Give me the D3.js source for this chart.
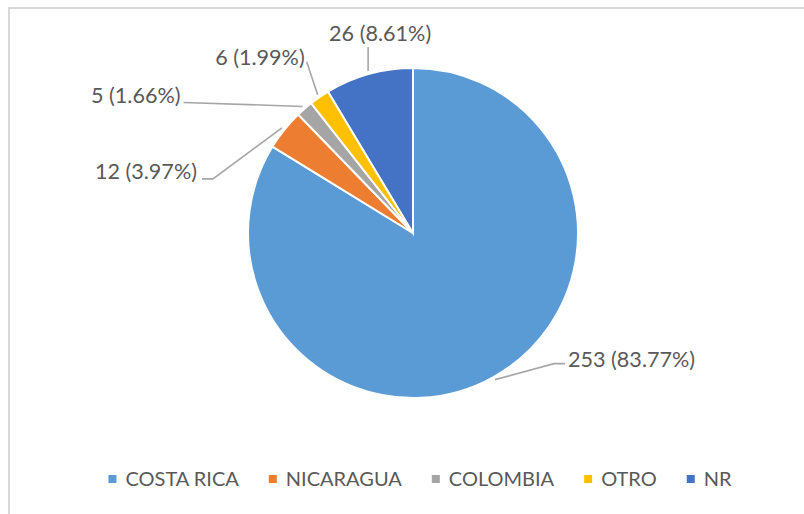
<!DOCTYPE html>
<html>
<head>
<meta charset="utf-8">
<script src="https://cdn.jsdelivr.net/npm/d3@7"></script>
<style>
  body { margin: 0; background: #fff; }
  text { font-family: Lato, "Open Sans", sans-serif; fill: #595959; }
</style>
</head>
<body>
<div id="chart"></div>
<script>
// data
const categories = ["COSTA RICA", "NICARAGUA", "COLOMBIA", "OTRO", "NR"];
const counts = [253, 12, 5, 6, 26];
const colours = ["#5B9BD5", "#ED7D31", "#A5A5A5", "#FFC000", "#4472C4"];

// where each data label sits relative to the start of its leader line
const labelLayout = [
  { elbow: [59, -16], end: [70, -16], anchor: "start", tx: 73, ty: -13 },
  { elbow: [-69, 51], end: [-80, 51], anchor: "end", tx: -85, ty: 51 },
  { elbow: [-119, -4], end: [-119, -4], anchor: "end", tx: -122, ty: -3 },
  { elbow: [-11, -33], end: [-11, -33], anchor: "end", tx: -13, ty: -30 },
  { elbow: [0, -24], end: [0, -24], anchor: "middle", tx: 12, ty: -30 }
];

const width = 804;
const height = 514;
const cx = 413;
const cy = 233;
const radius = 165;

const total = d3.sum(counts);
const formatPercent = d3.format(".2%");

const svg = d3
  .select("#chart")
  .append("svg")
  .attr("width", width)
  .attr("height", height);

// chart area border (only top and left edges are in view)
svg
  .append("rect")
  .attr("x", 9)
  .attr("y", 8)
  .attr("width", 900)
  .attr("height", 600)
  .style("fill", "none")
  .style("stroke", "#d9d9d9")
  .style("stroke-width", 2);

const pie = d3.pie().sort(null).value(d => d);
const arcs = pie(counts);

const arc = d3.arc().innerRadius(0).outerRadius(radius);

const chart = svg.append("g").attr("transform", `translate(${cx},${cy})`);

chart
  .selectAll("path.slice")
  .data(arcs)
  .enter()
  .append("path")
  .attr("class", "slice")
  .attr("d", arc)
  .style("fill", (d, i) => colours[i])
  .style("stroke", "#fff")
  .style("stroke-width", 2);

// leader lines + labels
const leaderR = 168;
arcs.forEach((d, i) => {
  const mid = (d.startAngle + d.endAngle) / 2;
  const sx = leaderR * Math.sin(mid);
  const sy = -leaderR * Math.cos(mid);
  const lay = labelLayout[i];

  chart
    .append("polyline")
    .attr("points", [
      [sx, sy],
      [sx + lay.elbow[0], sy + lay.elbow[1]],
      [sx + lay.end[0], sy + lay.end[1]]
    ].map(p => p.join(",")).join(" "))
    .style("fill", "none")
    .style("stroke", "#a6a6a6")
    .style("stroke-width", 1.6);

  chart
    .append("text")
    .attr("x", sx + lay.tx)
    .attr("y", sy + lay.ty)
    .attr("text-anchor", lay.anchor)
    .style("font-size", "21.6px")
    .text(`${counts[i]} (${formatPercent(counts[i] / total)})`);
});

// legend
const legend = svg.append("g").attr("class", "legend");
const items = legend
  .selectAll("g")
  .data(categories)
  .enter()
  .append("g");

items
  .append("rect")
  .attr("width", 8)
  .attr("height", 8)
  .attr("y", -11)
  .style("fill", (d, i) => colours[i]);

items
  .append("text")
  .attr("x", 17)
  .style("font-size", "20px")
  .text(d => d);

let x = 0;
items.each(function() {
  const w = d3.select(this).select("text").node().getComputedTextLength();
  d3.select(this).attr("transform", `translate(${x},0)`);
  x += 17 + w + 30;
});
const legendWidth = x - 30;
legend.attr("transform", `translate(${420 - legendWidth / 2},486)`);
</script>
</body>
</html>
